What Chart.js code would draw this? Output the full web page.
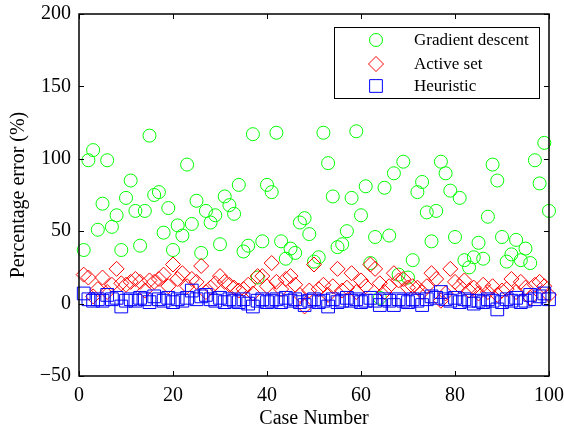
<!DOCTYPE html>
<html>
<head>
<meta charset="utf-8">
<title>Percentage error by case</title>
<script src="https://cdn.jsdelivr.net/npm/chart.js@4.4.0/dist/chart.umd.min.js"></script>
<style>
  html, body { margin: 0; padding: 0; background: #fff; }
  #wrap { width: 564px; height: 431px; }
</style>
</head>
<body>
<div id="wrap"><canvas id="errChart" width="564" height="431"></canvas></div>
<script>
// case index on the x axis
const caseNumbers = [
  1, 2, 3, 4, 5, 6, 7, 8, 9, 10, 11, 12, 13, 14, 15, 16, 17, 18, 19, 20,
  21, 22, 23, 24, 25, 26, 27, 28, 29, 30, 31, 32, 33, 34, 35, 36, 37, 38, 39, 40,
  41, 42, 43, 44, 45, 46, 47, 48, 49, 50, 51, 52, 53, 54, 55, 56, 57, 58, 59, 60,
  61, 62, 63, 64, 65, 66, 67, 68, 69, 70, 71, 72, 73, 74, 75, 76, 77, 78, 79, 80,
  81, 82, 83, 84, 85, 86, 87, 88, 89, 90, 91, 92, 93, 94, 95, 96, 97, 98, 99, 100
];

const seriesNames = ['Gradient descent', 'Active set', 'Heuristic'];

const gradientDescent = [
  37, 99, 106, 51, 69, 99, 53, 61, 37, 73, 85, 64, 40, 64, 116, 75, 77, 49, 66, 37,
  54, 47, 96, 55, 71, 35, 64, 56, 61, 41, 74, 68, 62, 82, 36, 40, 117, 18, 43, 82,
  77, 118, 43, 31, 38, 35, 56, 59, 48, 29, 32, 118, 97, 74, 39, 41, 50, 73, 119, 61,
  81, 28, 46, 4, 80, 47, 90, 20, 98, 18, 30, 77, 84, 63, 43, 64, 98, 90, 78, 46,
  73, 30, 25, 32, 42, 31, 60, 96, 85, 46, 29, 34, 44, 30, 38, 28, 99, 83, 111, 64
];

const activeSet = [
  20, 18, 5, 10, 18, 8, 13, 24, 14, 13, 15, 17, 15, 9, 16, 15, 17, 20, 12, 27,
  17, 21, 12, 17, 15, 26, 8, 11, 14, 19, 15, 13, 11, 9, 10, 13, 7, 19, 19, 12,
  28, 15, 10, 17, 19, 13, 6, -2, 9, 27, 10, 13, 6, 12, 24, 9, 11, 21, 8, 16,
  12, 27, 24, 14, 8, 12, 21, 16, 17, 11, 12, 11, 8, 12, 21, 17, 2, 7, 24, 15,
  12, 16, 9, 11, 7, 13, 8, 12, 6, 9, 10, 17, 8, 15, 11, 4, 13, 15, 12, 6
];

const heuristic = [
  7, 3, 2, 3, 2, 6, 3, 4, -2, 2, 3, 2, 4, 3, 1, 5, 3, 2, 4, 1,
  3, 2, 4, 9, 3, 5, 6, 3, 2, 4, 1, 3, 2, 1, 3, 0, -2, 2, 3, 1,
  2, 3, 1, 4, 2, 3, 1, -1, 2, 3, 1, 2, -2, 3, 1, 2, 4, 2, 3, 1,
  2, 4, 2, -1, 3, 2, -1, 3, 2, 1, 3, 2, -1, 3, 5, 4, 8, 3, 2, 4,
  1, 3, 2, 0, 2, 1, 3, 2, -4, 1, 3, 2, 4, 1, 2, 6, 3, 5, 7, 3
];

const xTicks = [0, 20, 40, 60, 80, 100];
const yTicks = [-50, 0, 50, 100, 150, 200];

function toPoints(vals) {
  return vals.map((v, i) => ({ x: caseNumbers[i], y: v }));
}

const serif = "'Liberation Serif', 'Times New Roman', serif";

// MATLAB style box: frame, inward ticks, legend in the top right corner
const matlabBox = {
  id: 'matlabBox',
  afterDatasetsDraw(chart) {
    const ctx = chart.ctx;
    const a = chart.chartArea;
    const xs = chart.scales.x, ys = chart.scales.y;
    ctx.save();
    ctx.strokeStyle = '#000';
    ctx.lineWidth = 1.5;
    ctx.strokeRect(a.left, a.top, a.right - a.left, a.bottom - a.top);
    const tl = 5;
    ctx.lineWidth = 1;
    ctx.beginPath();
    xTicks.forEach(t => {
      const px = Math.round(xs.getPixelForValue(t)) + 0.5;
      ctx.moveTo(px, a.bottom); ctx.lineTo(px, a.bottom - tl);
      ctx.moveTo(px, a.top); ctx.lineTo(px, a.top + tl);
    });
    yTicks.forEach(t => {
      const py = Math.round(ys.getPixelForValue(t)) + 0.5;
      ctx.moveTo(a.left, py); ctx.lineTo(a.left + tl, py);
      ctx.moveTo(a.right, py); ctx.lineTo(a.right - tl, py);
    });
    ctx.stroke();

    // legend
    const bx = 334, by = 27, bw = 205, bh = 71;
    ctx.fillStyle = '#fff';
    ctx.fillRect(bx, by, bw, bh);
    ctx.lineWidth = 1;
    ctx.strokeRect(bx + 0.5, by + 0.5, bw, bh);
    const rows = [40, 64, 86];
    const mx = 376;
    ctx.font = '17px ' + serif;
    ctx.textBaseline = 'middle';
    ctx.textAlign = 'left';
    chart.data.datasets.forEach((ds, i) => {
      const my = rows[i];
      ctx.strokeStyle = ds.borderColor;
      ctx.lineWidth = 1;
      ctx.beginPath();
      if (ds.pointStyle === 'circle') {
        ctx.arc(mx, my, ds.pointRadius, 0, Math.PI * 2);
      } else if (ds.pointStyle === 'rectRot') {
        const r = ds.pointRadius;
        ctx.moveTo(mx, my - r); ctx.lineTo(mx + r, my);
        ctx.lineTo(mx, my + r); ctx.lineTo(mx - r, my);
        ctx.closePath();
      } else {
        const h = ds.pointRadius * Math.SQRT1_2;
        ctx.rect(mx - h, my - h, 2 * h, 2 * h);
      }
      ctx.stroke();
      ctx.fillStyle = '#000';
      ctx.fillText(ds.label, 414, my + 1);
    });
    ctx.restore();
  }
};

const ctx = document.getElementById('errChart').getContext('2d');
new Chart(ctx, {
  type: 'scatter',
  data: {
    datasets: [{
      label: seriesNames[0],
      data: toPoints(gradientDescent),
      pointStyle: 'circle',
      pointRadius: 6.5,
      borderColor: '#00ff00',
      backgroundColor: 'rgba(0,0,0,0)',
      borderWidth: 1,
      order: 3,
      clip: false
    }, {
      label: seriesNames[1],
      data: toPoints(activeSet),
      pointStyle: 'rectRot',
      pointRadius: 7.5,
      borderColor: '#ff0000',
      backgroundColor: 'rgba(0,0,0,0)',
      borderWidth: 1,
      order: 2,
      clip: false
    }, {
      label: seriesNames[2],
      data: toPoints(heuristic),
      pointStyle: 'rect',
      pointRadius: 9,
      borderColor: '#0000ff',
      backgroundColor: 'rgba(0,0,0,0)',
      borderWidth: 1,
      order: 1,
      clip: false
    }]
  },
  options: {
    responsive: false,
    animation: false,
    devicePixelRatio: 1,
    layout: { padding: { top: 14, right: 15, left: 0, bottom: 0 } },
    plugins: {
      legend: { display: false },
      tooltip: { enabled: false }
    },
    scales: {
      x: {
        type: 'linear',
        min: 0,
        max: 100,
        afterBuildTicks: s => { s.ticks = xTicks.map(v => ({ value: v })); },
        afterFit: s => { s.height = 55; s.paddingLeft = 0; s.paddingRight = 0; },
        grid: { display: false, drawTicks: false },
        border: { display: false },
        ticks: {
          color: '#000',
          padding: 8,
          maxRotation: 0,
          font: { family: serif, size: 20 }
        },
        title: {
          display: true,
          text: 'Case Number',
          color: '#000',
          padding: { top: 0, bottom: 0 },
          font: { family: serif, size: 20 }
        }
      },
      y: {
        type: 'linear',
        min: -50,
        max: 200,
        afterBuildTicks: s => { s.ticks = yTicks.map(v => ({ value: v })); },
        afterFit: s => { s.width = 79; s.paddingTop = 0; s.paddingBottom = 0; },
        grid: { display: false, drawTicks: false },
        border: { display: false },
        ticks: {
          color: '#000',
          padding: 8,
          font: { family: serif, size: 20 },
          callback: v => String(v).replace('-', '\u2212')
        },
        title: {
          display: true,
          text: 'Percentage error (%)',
          color: '#000',
          padding: { top: 7, bottom: 0 },
          font: { family: serif, size: 20 }
        }
      }
    }
  },
  plugins: [matlabBox]
});
</script>
</body>
</html>
